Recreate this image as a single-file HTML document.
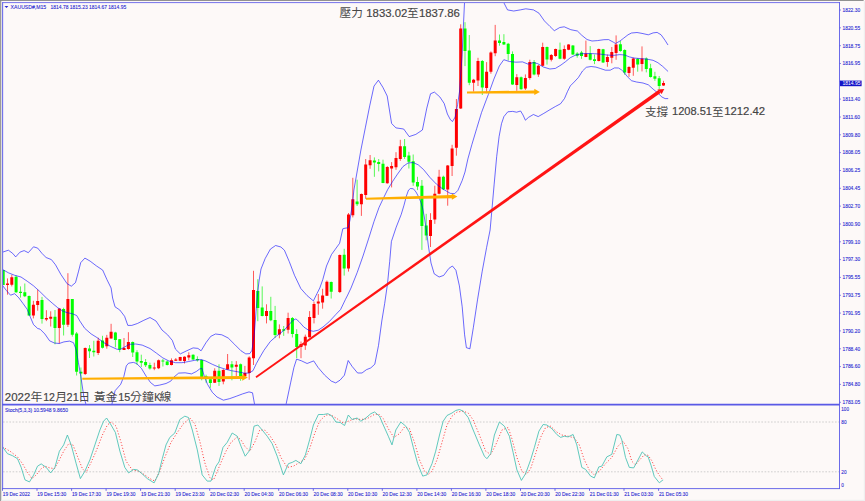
<!DOCTYPE html>
<html><head><meta charset="utf-8"><title>XAUUSD M15</title>
<style>html,body{margin:0;padding:0;background:#fdf9f8;}body{width:865px;height:501px;overflow:hidden;}svg{display:block;}text{font-family:"Liberation Sans",sans-serif;}text.cjk{font-family:"Liberation Sans","Noto Sans CJK TC",sans-serif;}</style>
</head><body>
<svg width="865" height="501" viewBox="0 0 865 501">
<defs><clipPath id="cm"><rect x="3" y="3" width="836.5" height="401"/></clipPath>
<clipPath id="cs"><rect x="3" y="405.5" width="836.5" height="83"/></clipPath></defs>
<rect width="865" height="501" fill="#fdf9f8"/>
<rect x="0" y="0" width="1.3" height="501" fill="#9b9b9b"/>
<rect x="0" y="0" width="863.6" height="0.9" fill="#858585"/>
<rect x="863.8" y="1" width="1.2" height="500" fill="#efefef"/>
<rect x="1.3" y="499.8" width="863.7" height="1.2" fill="#efefef"/>
<g clip-path="url(#cm)">
<path d="M3.2 270V285M16.1 275.5V293M20.5 286.4V297.6M24.8 283.5V297.1M29.1 295.5V315.8M42 296.9V323.6M55 310V344.3M63.6 307.7V335.5M72.3 299V336.6M76.6 332V375.5M80.9 367.5V393M89.5 345.1V358M93.8 340.8V356.5M102.5 335.8V348.5M115.4 331.8V347.3M119.7 339V352.2M132.7 341.5V357M137 350.2V365M141.3 354.7V367M145.6 359V367M149.9 362.7V369.6M162.9 359V366.5M167.2 360.5V365.5M193.1 354.3V360M197.4 356.3V361.6M201.7 359.5V380.3M206.1 374.7V382.7M210.4 377.9V387.8M219 364.3V385.9M231.9 361.1V380.3M240.6 363.5V380.8M257.8 279.2V321.2M262.2 286.4V316.4M270.8 296.8V321.2M275.1 305.9V337.8M283.7 326V335.9M292.4 317V337.5M296.7 329.2V358.2M331.2 281.5V298.5M344.2 248.8V275.6M357.1 179.7V206M374.4 157.4V176.8M378.7 159V171.4M383 159.7V183.2M404.6 139V158.9M408.9 151.8V168.5M413.2 154.5V185.8M417.5 176.8V190.1M421.9 180V249.9M426.2 213.8V240.3M443.4 175.7V190.1M465 22.2V66.1M469.3 35V85.2M482.3 60V95M499.5 34.5V45.7M503.9 34.2V45M508.2 42.9V60.5M512.5 51.4V84.9M521.1 76.5V89.7M534.1 60V75.3M547 46.6V64.6M560 42.6V59.3M572.9 45V55M577.2 52.1V57.7M581.5 50.9V58.8M590.2 46.1V60.4M594.5 54.5V64.1M603.1 48.9V63M620.4 41V51.8M624.7 49.3V74.8M637.7 58.2V71.7M646.3 57.4V72.4M650.6 63.8V77.6M654.9 71.8V80.8M659.2 76V89.4" stroke="#50f850" stroke-width="0.95" fill="none"/>
<path d="M7.5 278.4V294.7M11.8 274.8V286.4M33.4 300.8V318.4M37.7 289.6V310.7M46.4 310.2V321.1M50.7 311.3V326.5M59.3 308.4V343.5M67.9 273.2V327M85.2 347.5V375M98.2 337.7V355M106.8 334.9V348.7M111.1 323.8V338.7M124 338V350M128.4 332.2V349.7M154.3 362.7V370.2M158.6 359.5V369.1M171.5 358.4V365.4M175.8 358V361M180.2 356.8V361.1M184.5 356.3V363.5M188.8 352.3V360.3M214.7 368.3V383M223.3 369.1V384.3M227.6 354V369.9M236.3 361.1V376.3M244.9 365.9V376.6M249.2 356.3V379.8M253.5 270.8V365M266.5 304.3V323.4M279.4 324.4V338.3M288.1 312.7V333.5M301 341.5V358.2M305.3 334.6V349.9M309.6 311.1V337.5M314 301.6V323.4M318.3 294V314.8M322.6 288.8V308.7M326.9 280.5V296M339.8 254.5V293M348.5 213V271.6M352.8 177.8V217.4M361.4 193.5V215.9M365.7 159V198.9M370.1 155V168.8M387.3 166.1V183.7M391.6 162.1V187.4M396 152.2V169.8M400.3 139.8V160.9M430.5 213.2V247M434.8 185.7V223.9M439.1 169.8V194.4M447.7 165V205.7M452.1 144.8V176M456.4 99V155.7M460.7 24.3V109M473.6 78.9V91.6M478 57.8V86M486.6 62.1V93.2M490.9 51.4V73.7M495.2 24.9V56.2M516.8 74.1V90.8M525.4 74.4V90M529.8 59.7V79.7M538.4 64.8V76.9M542.7 42.7V66.2M551.3 54V61.4M555.6 48.6V56.9M564.3 45.4V59.8M568.6 44.2V50.2M585.9 40.6V57.2M598.8 48.6V61.4M607.4 54.5V66.8M611.8 47V63.3M616.1 35.4V59.8M629 66.2V76.9M633.3 57.7V75.8M642 46.4V71.4M663.5 80.8V85.9" stroke="#ff5050" stroke-width="0.95" fill="none"/>
<path d="M1.7 270h3V285h-3zM14.6 276.8h3V292.3h-3zM19 291.8h3V293.1h-3zM23.3 292.3h3V296.3h-3zM27.6 296h3V315.5h-3zM40.5 300h3V319h-3zM53.5 316.8h3V328h-3zM62.1 309h3V324.8h-3zM70.8 299h3V334.7h-3zM75.1 333.4h3V371.8h-3zM79.4 371.8h3V373.4h-3zM88 348.4h3V351.2h-3zM92.3 350.7h3V352.3h-3zM101 340.4h3V347.7h-3zM113.9 332.4h3V339.9h-3zM118.2 339.3h3V349.5h-3zM131.2 342h3V352.4h-3zM135.5 352.2h3V361.6h-3zM139.8 361h3V362.7h-3zM144.1 361.9h3V365.2h-3zM148.4 365.1h3V368.6h-3zM161.4 360.6h3V361.6h-3zM165.7 361.4h3V365.1h-3zM191.6 354.7h3V359.5h-3zM195.9 359h3V360.3h-3zM200.2 360h3V377.1h-3zM204.6 376.3h3V377.9h-3zM208.9 379.2h3V383h-3zM217.5 370.7h3V381.9h-3zM230.4 364.3h3V367.5h-3zM239.1 364.3h3V376.3h-3zM256.3 290.9h3V307.9h-3zM260.7 307.5h3V315.9h-3zM269.3 311.1h3V320.2h-3zM273.6 319.9h3V335.1h-3zM282.2 329.2h3V330.8h-3zM290.9 318h3V334h-3zM295.2 334h3V347h-3zM329.7 282h3V291.7h-3zM342.7 254.7h3V268.6h-3zM355.6 201.5h3V204.2h-3zM372.9 160.5h3V162.5h-3zM377.2 162.1h3V164.1h-3zM381.5 163.7h3V182.9h-3zM403.1 146.2h3V157h-3zM407.4 155.4h3V161.8h-3zM411.7 161.3h3V182.6h-3zM416 182h3V186.4h-3zM420.4 185.8h3V226h-3zM424.7 225.5h3V235.6h-3zM441.9 176.8h3V189.3h-3zM463.5 28.6h3V50.9h-3zM467.8 50.4h3V82.8h-3zM480.8 61h3V87.6h-3zM498 40.5h3V42.9h-3zM502.4 42.1h3V44.5h-3zM506.7 43.7h3V54.1h-3zM511 54.1h3V84.4h-3zM519.6 77.3h3V89.2h-3zM532.6 62.1h3V74.4h-3zM545.5 46.9h3V59.6h-3zM558.5 49.7h3V58.8h-3zM571.4 45.4h3V54.5h-3zM575.7 53.4h3V55.7h-3zM580 52.5h3V56.1h-3zM588.7 53.4h3V59.8h-3zM593 59.3h3V60.9h-3zM601.6 49.3h3V62.5h-3zM618.9 44.2h3V50.9h-3zM623.2 50.1h3V72.5h-3zM636.2 58.7h3V64.5h-3zM644.8 58.6h3V69h-3zM649.1 68.3h3V77.1h-3zM653.4 76.3h3V78.7h-3zM657.7 78.2h3V85.9h-3z" fill="#00ff00"/>
<path d="M6 283.5h3V285.1h-3zM10.3 277.2h3V284.8h-3zM31.9 304.8h3V315.5h-3zM36.2 301.1h3V305.1h-3zM44.9 317.9h3V319.5h-3zM49.2 316.8h3V318.7h-3zM57.8 308.6h3V328h-3zM66.4 299h3V324.8h-3zM83.7 347.9h3V373.9h-3zM96.7 340.8h3V353h-3zM105.3 337.8h3V346.3h-3zM109.6 331.7h3V338.5h-3zM122.5 347.9h3V350h-3zM126.9 342h3V349h-3zM152.8 367.5h3V368.6h-3zM157.1 360.3h3V368.3h-3zM170 360.3h3V365.1h-3zM174.3 359.5h3V360.7h-3zM178.7 357.1h3V360.7h-3zM183 356.8h3V361.1h-3zM187.3 355.2h3V357.5h-3zM213.2 370.7h3V382.7h-3zM221.8 369.9h3V381.4h-3zM226.1 364.3h3V369.6h-3zM234.8 364.8h3V366.7h-3zM243.4 373.1h3V376.3h-3zM247.7 357.5h3V373.1h-3zM252 289.9h3V358.2h-3zM265 311.1h3V315.9h-3zM277.9 329.2h3V334.6h-3zM286.6 318h3V329.8h-3zM299.5 343.9h3V347h-3zM303.8 336.7h3V345.5h-3zM308.1 317h3V337.2h-3zM312.5 303.9h3V318h-3zM316.8 301.6h3V303.6h-3zM321.1 295.6h3V302.4h-3zM325.4 281.8h3V295.8h-3zM338.3 254.9h3V292h-3zM347 214.6h3V268.6h-3zM351.3 199.3h3V215.2h-3zM359.9 194h3V204.2h-3zM364.2 164.5h3V195h-3zM368.6 160.2h3V165.3h-3zM385.8 166.9h3V183.2h-3zM390.1 166.1h3V168.5h-3zM394.5 158.1h3V167.2h-3zM398.8 146.2h3V158.9h-3zM429 219.9h3V235.9h-3zM433.3 193.8h3V219.6h-3zM437.6 176.8h3V193.7h-3zM446.2 165.6h3V189.5h-3zM450.6 148.5h3V166h-3zM454.9 109h3V147.7h-3zM459.2 28.6h3V108.6h-3zM472.1 79.7h3V82.8h-3zM476.5 61h3V80.5h-3zM485.1 71.7h3V88.1h-3zM489.4 52.5h3V71.7h-3zM493.7 40.5h3V53.3h-3zM515.3 77.3h3V84.9h-3zM523.9 78.1h3V88.4h-3zM528.3 62.1h3V78.1h-3zM536.9 65.8h3V74.4h-3zM541.2 46.9h3V65.8h-3zM549.8 55h3V59.8h-3zM554.1 48.9h3V56.1h-3zM562.8 48.9h3V58.8h-3zM567.1 44.5h3V49.7h-3zM584.4 53.4h3V56.9h-3zM597.3 48.9h3V60.9h-3zM605.9 56.9h3V62h-3zM610.3 52.1h3V57.7h-3zM614.6 44.5h3V52.9h-3zM627.5 66.9h3V72.9h-3zM631.8 58.5h3V67.8h-3zM640.5 58.6h3V64h-3zM662 83h3V85.6h-3z" fill="#ff0000"/>
<g fill="none" stroke="#0000ff" stroke-opacity="0.58" stroke-width="1.0" stroke-linejoin="round" stroke-linecap="round">
<path d="M2.5 252.2 L8.4 250.2 L12.6 253.3 L15.7 256.9 L19.9 252.2 L24.1 250.6 L28.3 252.7 L33.5 246.8 L37.7 248.1 L41.9 253.3 L46.1 257.5 L51.4 259.6 L55.5 264.8 L60.8 274.3 L67.1 283.7 L71.3 286.2 L75.5 282.6 L78.6 271.1 L80.7 262.7 L84.9 258.1 L90.1 261.1 L96.4 265.9 L102.7 270.1 L106.9 279.5 L111.1 288 L112.6 298 L115 306.8 L119.8 310 L124.6 316.3 L127.8 325.4 L131.8 325.4 L137.4 323.5 L143.8 320.3 L150 317.5 L156 321 L162 330 L167.6 334.8 L172.3 340.4 L175.5 349.2 L180.3 353.9 L186.7 350.8 L193.1 347.9 L197.9 348.4 L201.1 350.8 L205.9 342.8 L210.7 336.4 L215.5 334 L221.8 334.8 L228.2 338 L234.6 344.4 L241 350.8 L245.8 353.9 L249.8 353.6 L252 350.2 L254.4 332.7 L256 311.9 L257.6 292.8 L259.2 280 L261 269 L265.2 258.5 L270.4 249.1 L275.6 245.5 L280.9 247 L284.4 250.2 L289.3 261.7 L294.5 275.3 L300.8 288.5 L307.1 295.6 L313.4 300.9 L317 293.5 L319.8 288 L322.8 279.5 L326.5 266 L331.5 254.5 L335.4 249.1 L339.6 243.3 L342.8 228.8 L345 228.2 L348.2 227.8 L350 220 L352.7 201.5 L353.9 190 L360.9 150 L365.3 127.9 L369.7 105.9 L374 86.1 L378.4 80.2 L382.8 87.2 L387.2 96 L391.6 123.5 L396 127.9 L403.7 129 L409.2 136.6 L415.8 134.4 L422.4 130 L426.8 108.1 L430.5 93.8 L434.4 92.1 L439.9 97 L444.2 103.5 L447.4 114 L450.4 119.7 L452.5 121.5 L455.2 117 L457.6 104.6 L459.6 91 L462.1 54.9 L463.6 22 L464.5 2.6 L465 -5"/>
<path d="M503 -5 L503.8 2.6 L507.5 9.9 L513.7 11 L520.3 9.9 L525.8 8.8 L533.5 9.9 L539 13.2 L544.4 20.9 L549.9 26.4 L554.3 30.7 L559.8 27.5 L564.2 26.8 L570.8 29.7 L577.4 31 L581.8 35.3 L587 39.5 L592 41 L597.5 40.6 L603.9 39.7 L608.6 39.6 L613.4 42.2 L615.5 43.5 L619.7 41.2 L623.5 38.3 L628 34.8 L631.5 33 L637 32.5 L642 33.4 L648.3 34.8 L653.1 32.9 L657.1 32.4 L661.1 34.8 L665.1 40.4 L667.8 44.7"/>
<path d="M2.5 269.4 L8.4 272.8 L14.7 275.3 L21 277 L27.2 281.2 L33.5 285.8 L39.8 291.5 L46.4 298 L52.8 303.6 L57.6 307.6 L62.3 310.8 L67.1 312.7 L71.9 313.6 L76.7 315.5 L79.9 321.1 L84.7 328.3 L91.1 333.9 L97.5 337.9 L103.9 342.7 L110.2 346.2 L116.6 349.1 L119.8 349.6 L124.6 347 L129.4 344.3 L135.8 344 L142.2 345.1 L150 348.5 L156.4 353.1 L162.8 357.9 L169.2 361.1 L175.5 362.7 L181.9 362.7 L188.3 361.6 L194.7 360.3 L201.1 359.5 L205.9 361.1 L212.3 364.3 L218.6 367 L225 369.1 L231.4 370.7 L237.8 371.8 L244.2 373.1 L249 373.1 L253 370.7 L256.4 363.5 L260 357 L263.9 350.4 L270.3 341.5 L276.7 335.9 L283.1 331.1 L287.9 326 L292.7 320.5 L295.9 318.9 L299.1 321.7 L303.9 327.1 L308.7 330.3 L313.4 331.3 L318.2 330.2 L323 327 L329.4 321.5 L335.8 314.5 L340.6 309.5 L345.4 299.5 L347.7 295 L351 288 L357.2 272.5 L363 256 L368.5 239 L374 221.5 L379 207.5 L383 199 L387.7 189.5 L392.7 181.3 L397.5 174.1 L403 166.5 L408 163 L413 162.5 L418.2 164.8 L423.5 169.5 L430 177.5 L436.5 184.2 L442.5 188.8 L450.2 193.3 L454.6 193.7 L457.9 190.4 L462.2 180.5 L465 172 L467.9 158.9 L471.9 144.5 L476.7 128.5 L481.5 112.6 L486.3 99.8 L488.4 94.4 L493.9 79.1 L499.4 65.9 L503.8 59.7 L509.3 61.5 L515.9 62.2 L522.5 61.9 L528 64.1 L533.5 62.6 L537.8 63.7 L543.3 67 L549.9 69 L555.4 68.4 L561 65 L565.5 61.7 L570.3 57.7 L575.1 55.3 L581.5 53.7 L587.9 53.5 L594.3 53.7 L600.7 54.2 L607 55 L613.4 55.4 L619.8 54.6 L624.6 55 L629.4 56.9 L634 58 L640.3 58.6 L646.7 59.1 L653.1 60.3 L657.9 62.7 L662.7 66.4 L667.8 71.2"/>
<path d="M2.5 285.4 L6.3 290.4 L10.5 295.2 L14.7 293.7 L18.9 297.9 L23.1 303.6 L27.2 309.3 L30.4 317.2 L33.5 324.6 L37.7 328.5 L40 329.1 L44.8 333.9 L49.6 340.8 L54.4 343 L59.2 343.5 L63.9 341.9 L69.5 341.1 L73.5 342.7 L76 349.2 L78.4 362.5 L80.8 376.3 L83.9 397 L86 404.5 L89 412"/>
<path d="M109 412 L111.9 404.2 L115.1 390.7 L120.7 384.3 L123.9 376.3 L126.3 365.9 L128.6 363.2 L133.4 362.4 L136.6 363.5 L141.4 368.3 L146.2 376.3 L150.5 382.5 L154.8 385.9 L159.6 385.1 L166 383.5 L170.8 381.1 L173.9 377.1 L178.7 373.1 L185.1 372.8 L191.5 373.9 L196.3 371.5 L199.5 369.1 L201.9 368.3 L204.3 376.3 L207.5 384.3 L212.3 392.3 L217 397 L223.4 400.2 L229.8 398.6 L236.2 396.3 L242.6 393.9 L249 391.9 L252.5 392.8 L254.5 404 L255 412"/>
<path d="M285 412 L286.2 403.7 L290.6 382.9 L293.9 367.5 L296.6 359.1 L301.6 360.9 L307.1 363.5 L313.7 360.9 L318.1 367.5 L324.7 375.2 L331.3 381.1 L335.7 382.9 L340 380.2 L344.4 375.2 L348.2 360.5 L352.1 366.4 L357.6 373 L362 373 L366.4 369.7 L370.8 367.9 L374.8 364.2 L378.5 345.5 L381.8 321 L384.7 303.4 L387.5 283.8 L389.7 261.5 L391.4 241.5 L396.2 227.2 L401.2 214.5 L404 205.2 L406.4 196 L408.5 190.1 L410.5 188.5 L413.4 188.8 L416 192 L418.6 196.8 L420.8 202 L422.6 208 L424.3 217 L426.4 230 L428.4 246 L431 263 L434.2 273.8 L439.1 277 L443.7 275.4 L448.9 268.4 L452.4 266 L455.9 270.2 L459.4 285.9 L462.2 306.8 L464.6 334.8 L466.4 347.7 L469.9 348.8 L473.3 327.8 L477.5 299.9 L482.1 271.9 L486.6 247.5 L490.1 230 L491.2 217.9 L494.1 184.9 L496.7 156.5 L499.1 136.5 L501.5 123.7 L503.9 116.6 L507.8 111.8 L512.6 111.4 L516.6 112.2 L520.6 111 L523 115 L525.4 120.2 L528.6 117.3 L533.4 114.5 L538.2 116.6 L543.8 113.4 L549.9 109.7 L555.4 106.5 L560.5 103.8 L564.5 98.5 L567.5 91.5 L570.3 85.9 L574.2 82 L578.4 77.5 L582.5 71 L586.3 67.3 L591.1 66.5 L595.9 67.1 L600.7 68.6 L605.4 70.2 L610.2 70.2 L614.5 67.9 L618.5 68 L621.4 69.8 L623.8 72 L627.3 76.6 L631.5 80.7 L636.5 82 L643 83 L648.3 84.8 L653.1 89.1 L657.9 93.1 L661.9 97 L665.1 98.6 L667.8 98.6"/>
</g>
</g>
<path d="M82.3 379.8 L242.2 379.1 L242.2 380.7 L247.8 377.5 L242.2 374.3 L242.2 376 L82.3 377.8z" fill="#ffae00"/>
<path d="M366 199.7 L451.8 198.2 L451.9 199.8 L457.4 196.5 L451.7 193.4 L451.8 195.1 L366 197.7z" fill="#ffae00"/>
<path d="M467 93.5 L534.3 93.4 L534.3 95.1 L539.9 91.9 L534.3 88.7 L534.3 90.5 L467 91.5z" fill="#ffae00"/>
<path d="M256.5 378 L660.5 93 L658.5 90.1 L255.5 376.6z" fill="#ff1414"/>
<path d="M664.3 88.9L657.4 89.5L661.7 93.9z" fill="#ff1414"/>
<g clip-path="url(#cs)">
<path d="M3 422H839M3 471.8H839" stroke="#c0c0c0" stroke-width="0.75" stroke-dasharray="1.6 1.6" fill="none"/>
<path d="M2.5 446.9 L10 451.2 L17.5 456.9 L22.5 463.7 L27.5 472.4 L32 478.6 L36.2 474.9 L41.2 468.7 L44.9 466.2 L49.9 467.9 L54.4 468.7 L58.7 461.2 L63.7 451.2 L68.7 443.7 L72.9 444.9 L77.4 456.2 L82.4 468.7 L86.1 472.4 L91.1 462.4 L96.1 451.2 L102.4 435 L107.4 425 L111.1 422 L116.1 426.2 L121.1 442.4 L126.1 461.2 L132.3 469.9 L138.6 471.2 L144.8 474.9 L149.8 478.6 L154.8 481.1 L159.8 471.2 L164.8 457.4 L171 442.4 L177.3 432.5 L183.5 423.7 L189.8 418 L194.8 423.7 L199.8 441.2 L204.7 462.4 L209.7 477.4 L213.5 479.9 L216 474.4 L221 462.4 L226 451.2 L231 442.4 L237.2 436.9 L241 439.9 L244.7 446.2 L249.7 451.2 L254.7 442.4 L259.7 430 L264.7 430 L269.7 435.4 L275.9 444.9 L280.9 457.4 L287.2 467.4 L293.4 466.2 L299.6 462.4 L304.6 459.4 L309.6 448.7 L314.6 433.7 L319.6 421.2 L325.9 415 L330.9 415 L337.1 418.7 L343.3 423 L348.3 421.2 L354.6 418.7 L360.8 419.5 L367.1 418.7 L373.3 415 L378.3 413.7 L383.3 418.7 L388.3 428.7 L393.8 437.4 L399.5 433.7 L404.5 427 L409.5 428.7 L414.5 442.4 L419.5 459.9 L424.5 471.2 L428.2 474.4 L432 471.2 L437 459.9 L442 442.4 L447 425 L452 416.2 L457 412 L463.2 411.2 L468.2 413 L473.2 420 L479.4 435 L485.7 451.2 L490.7 454.4 L495.7 444.9 L501.9 430 L508.2 427.5 L511.9 438.7 L516.9 457.4 L521.9 471.2 L526.4 474.4 L530.6 468.7 L535.6 453.7 L540.6 437.4 L545.6 427.5 L550.6 426.2 L556.8 432 L561.8 435 L568.1 436.2 L574.3 437.9 L579.3 444.9 L584.3 459.9 L589.3 469.9 L594.3 474.9 L599.3 471.2 L605.5 463.7 L611.8 457.4 L618 446.2 L623 441.2 L628 448.7 L631.8 461.2 L635.5 464.9 L639.2 460.4 L644.2 454.9 L648 455.2 L651.8 460.7 L655.5 469 L659.3 475.3 L663.1 480.3" stroke="#ff3030" stroke-width="0.9" stroke-dasharray="1.1 1.9" fill="none"/>
<path d="M2.5 446.9 L7.5 453.7 L12.5 455.7 L17.5 458.7 L21.2 467.4 L25 479.9 L29.5 481.9 L33.7 474.9 L37.5 466.2 L41.2 463.9 L46.2 467.4 L50.7 472.9 L54.9 467.4 L59.4 451.2 L63.7 444.9 L67.4 435 L71.2 444.9 L76.2 463.7 L80.4 478.6 L84.9 471.2 L89.9 459.9 L94.9 444.9 L99.9 430 L103.6 421.2 L106.6 418 L111.1 425 L115.4 432.5 L119.9 451.2 L124.8 467.4 L128.6 472.9 L133.6 469.4 L137.3 469.9 L141.1 472.9 L147.3 478.6 L154.1 482.9 L158.6 473.7 L162.3 458.7 L166 444.9 L169.8 437.4 L174.8 433 L179.8 419.5 L184.8 416.2 L188.5 417.5 L192.3 430 L197.3 449.9 L202.2 474.9 L207.2 481.1 L211 481.1 L214.7 469.9 L216 466.2 L219 461.9 L223 447.4 L227.2 442.4 L232.2 433 L237.2 436.2 L241 446.2 L245.2 456.2 L249.7 450.4 L254 426.2 L257.9 425 L262.2 430 L267.2 436.2 L272.2 443.7 L277.2 456.2 L283.4 474.9 L288.4 463.7 L292.2 462.4 L295.9 460.4 L300.9 463.7 L305.4 454.9 L309.6 439.9 L313.4 425 L318.4 414.5 L323.4 414.5 L327.9 413.7 L332.1 416.2 L335.9 422 L340.3 422.5 L344.6 425.5 L348.3 415 L352.1 419.5 L357.1 418 L360.8 421.2 L365.8 418 L370.8 413.7 L374.6 412 L379.5 416.2 L383.3 425 L388.3 436.2 L392 444.9 L395.8 430 L400.8 422 L405.8 426.2 L409.5 432.5 L413.3 447.4 L417.7 463.7 L422.7 476.1 L427 474.9 L432 463.7 L435.7 451.2 L439.5 435 L443.2 421.2 L447 415.5 L452 413 L455.7 410.5 L459.5 409.5 L463.2 411.2 L468.2 417.5 L473.2 430 L479.4 444.9 L484.4 456.2 L486.9 458.7 L490.7 453.7 L494.4 435 L499.4 422 L504.4 426.2 L509.4 436.2 L513.1 452.4 L516.9 469.9 L521.4 480.4 L525.6 473.7 L530.6 459.9 L534.4 447.4 L538.9 431.2 L543.1 424.5 L546.9 425 L551.9 428.7 L556.8 434.5 L560.6 437.4 L564.3 436.2 L568.1 436.9 L573.1 434.5 L576.8 444.9 L581.8 467.4 L585.6 469.4 L590.6 476.1 L594.3 477.9 L598.8 466.9 L601.8 466.2 L606.8 456.9 L611.8 454.4 L616.8 434.5 L619.8 435 L621.8 439.9 L625.5 457.4 L629.3 467.4 L633.7 467.9 L638 459.9 L642.2 451.9 L646.7 456.2 L648 456.5 L651 465.2 L654.3 476.5 L659.3 482.8 L663.1 479.8" stroke="#45c0b2" stroke-width="0.85" fill="none" stroke-linejoin="round"/>
</g>
<g stroke="#5a5ae6" fill="none">
<path d="M2.6 2V489" stroke-width="1.1" stroke="#6e6eea"/>
<path d="M2 2.6H840" stroke-width="1" stroke="#7672ea"/>
<path d="M839.5 2V489" stroke-width="0.9"/>
<path d="M2 488.6H840" stroke-width="0.9"/>
<path d="M2 404.6H840" stroke-width="1.9"/>
<path d="M839.5 10h1.3M839.5 27.8h1.3M839.5 45.7h1.3M839.5 63.5h1.3M839.5 81.3h1.3M839.5 99.1h1.3M839.5 117h1.3M839.5 134.8h1.3M839.5 152.6h1.3M839.5 170.5h1.3M839.5 188.3h1.3M839.5 206.1h1.3M839.5 224h1.3M839.5 241.8h1.3M839.5 259.6h1.3M839.5 277.4h1.3M839.5 295.3h1.3M839.5 313.1h1.3M839.5 330.9h1.3M839.5 348.8h1.3M839.5 366.6h1.3M839.5 384.4h1.3M839.5 402.3h1.3M2.5 488.6v2.2M37 488.6v2.2M71.6 488.6v2.2M106.1 488.6v2.2M140.6 488.6v2.2M175.2 488.6v2.2M209.7 488.6v2.2M244.2 488.6v2.2M278.7 488.6v2.2M313.3 488.6v2.2M347.8 488.6v2.2M382.3 488.6v2.2M416.9 488.6v2.2M451.4 488.6v2.2M485.9 488.6v2.2M520.5 488.6v2.2M555 488.6v2.2M589.5 488.6v2.2M624 488.6v2.2M658.6 488.6v2.2" stroke-width="0.9"/>
</g>
<g fill="#2a2ad2" font-size="5px" stroke="#2a2ad2" stroke-width="0.1">
<text x="842.5" y="11.8" textLength="17.6" lengthAdjust="spacingAndGlyphs">1822.30</text>
<text x="842.5" y="29.6" textLength="17.6" lengthAdjust="spacingAndGlyphs">1820.55</text>
<text x="842.5" y="47.5" textLength="17.6" lengthAdjust="spacingAndGlyphs">1818.75</text>
<text x="842.5" y="65.3" textLength="17.6" lengthAdjust="spacingAndGlyphs">1816.95</text>
<text x="842.5" y="100.9" textLength="17.6" lengthAdjust="spacingAndGlyphs">1813.40</text>
<text x="842.5" y="118.8" textLength="17.6" lengthAdjust="spacingAndGlyphs">1811.60</text>
<text x="842.5" y="136.6" textLength="17.6" lengthAdjust="spacingAndGlyphs">1809.80</text>
<text x="842.5" y="154.4" textLength="17.6" lengthAdjust="spacingAndGlyphs">1808.05</text>
<text x="842.5" y="172.3" textLength="17.6" lengthAdjust="spacingAndGlyphs">1806.25</text>
<text x="842.5" y="190.1" textLength="17.6" lengthAdjust="spacingAndGlyphs">1804.45</text>
<text x="842.5" y="207.9" textLength="17.6" lengthAdjust="spacingAndGlyphs">1802.70</text>
<text x="842.5" y="225.8" textLength="17.6" lengthAdjust="spacingAndGlyphs">1800.90</text>
<text x="842.5" y="243.6" textLength="17.6" lengthAdjust="spacingAndGlyphs">1799.10</text>
<text x="842.5" y="261.4" textLength="17.6" lengthAdjust="spacingAndGlyphs">1797.30</text>
<text x="842.5" y="279.2" textLength="17.6" lengthAdjust="spacingAndGlyphs">1795.55</text>
<text x="842.5" y="297.1" textLength="17.6" lengthAdjust="spacingAndGlyphs">1793.75</text>
<text x="842.5" y="314.9" textLength="17.6" lengthAdjust="spacingAndGlyphs">1791.95</text>
<text x="842.5" y="332.7" textLength="17.6" lengthAdjust="spacingAndGlyphs">1790.20</text>
<text x="842.5" y="350.6" textLength="17.6" lengthAdjust="spacingAndGlyphs">1788.40</text>
<text x="842.5" y="368.4" textLength="17.6" lengthAdjust="spacingAndGlyphs">1786.60</text>
<text x="842.5" y="386.2" textLength="17.6" lengthAdjust="spacingAndGlyphs">1784.80</text>
<text x="842.5" y="404.1" textLength="17.6" lengthAdjust="spacingAndGlyphs">1783.05</text>
<text x="841.3" y="410.7" textLength="7.7" lengthAdjust="spacingAndGlyphs">100</text>
<text x="841.3" y="424" textLength="5.2" lengthAdjust="spacingAndGlyphs">80</text>
<text x="841.3" y="473.7" textLength="5.2" lengthAdjust="spacingAndGlyphs">20</text>
<text x="841.3" y="486.9" textLength="2.6" lengthAdjust="spacingAndGlyphs">0</text>
<text x="2.8" y="495.6" textLength="27.2" lengthAdjust="spacingAndGlyphs">19 Dec 2022</text>
<text x="37.3" y="495.6" textLength="29" lengthAdjust="spacingAndGlyphs">19 Dec 15:30</text>
<text x="71.9" y="495.6" textLength="29" lengthAdjust="spacingAndGlyphs">19 Dec 17:30</text>
<text x="106.4" y="495.6" textLength="29" lengthAdjust="spacingAndGlyphs">19 Dec 19:30</text>
<text x="140.9" y="495.6" textLength="29" lengthAdjust="spacingAndGlyphs">19 Dec 21:30</text>
<text x="175.5" y="495.6" textLength="29" lengthAdjust="spacingAndGlyphs">19 Dec 23:30</text>
<text x="210" y="495.6" textLength="29" lengthAdjust="spacingAndGlyphs">20 Dec 02:30</text>
<text x="244.5" y="495.6" textLength="29" lengthAdjust="spacingAndGlyphs">20 Dec 04:30</text>
<text x="279" y="495.6" textLength="29" lengthAdjust="spacingAndGlyphs">20 Dec 06:30</text>
<text x="313.6" y="495.6" textLength="29" lengthAdjust="spacingAndGlyphs">20 Dec 08:30</text>
<text x="348.1" y="495.6" textLength="29" lengthAdjust="spacingAndGlyphs">20 Dec 10:30</text>
<text x="382.6" y="495.6" textLength="29" lengthAdjust="spacingAndGlyphs">20 Dec 12:30</text>
<text x="417.2" y="495.6" textLength="29" lengthAdjust="spacingAndGlyphs">20 Dec 14:30</text>
<text x="451.7" y="495.6" textLength="29" lengthAdjust="spacingAndGlyphs">20 Dec 16:30</text>
<text x="486.2" y="495.6" textLength="29" lengthAdjust="spacingAndGlyphs">20 Dec 18:30</text>
<text x="520.8" y="495.6" textLength="29" lengthAdjust="spacingAndGlyphs">20 Dec 20:30</text>
<text x="555.3" y="495.6" textLength="29" lengthAdjust="spacingAndGlyphs">20 Dec 22:30</text>
<text x="589.8" y="495.6" textLength="29" lengthAdjust="spacingAndGlyphs">21 Dec 01:30</text>
<text x="624.3" y="495.6" textLength="29" lengthAdjust="spacingAndGlyphs">21 Dec 03:30</text>
<text x="658.9" y="495.6" textLength="29" lengthAdjust="spacingAndGlyphs">21 Dec 05:30</text>
<text x="10.6" y="8.9" textLength="35.6" lengthAdjust="spacingAndGlyphs">XAUUSD#,M15</text>
<text x="50.5" y="8.9" textLength="75.7" lengthAdjust="spacingAndGlyphs">1814.78 1815.23 1814.67 1814.95</text>
<text x="5" y="411.6" textLength="63" lengthAdjust="spacingAndGlyphs">Stoch(5,3,3) 10.5948 9.8650</text>
<path d="M4.5 5.9h3.9l-1.95 2.1z" stroke="none"/>
</g>
<rect x="840" y="80.6" width="21.6" height="5.6" fill="#1414c8"/>
<text x="842.4" y="85.2" font-size="5.1px" fill="#ffffff" textLength="18.2" lengthAdjust="spacingAndGlyphs">1814.95</text>
<g fill="#444444" stroke="#444444" stroke-width="0.18">
<text class="cjk" x="339.6" y="17.4" font-size="11.6px" fill="#484848" stroke="none">壓</text>
<text class="cjk" x="351.2" y="17.4" font-size="11.6px" fill="#484848" stroke="none">力</text>
<text x="366.3" y="16.6" font-size="11.3px" textLength="41" lengthAdjust="spacingAndGlyphs">1833.02</text>
<text class="cjk" x="407.1" y="17.4" font-size="11.6px" fill="#484848" stroke="none">至</text>
<text x="418.9" y="16.6" font-size="11.3px" textLength="41" lengthAdjust="spacingAndGlyphs">1837.86</text>
<text class="cjk" x="645" y="116.1" font-size="11.6px" fill="#484848" stroke="none">支</text>
<text class="cjk" x="656.5" y="116.1" font-size="11.6px" fill="#484848" stroke="none">撐</text>
<text x="672.0" y="115.4" font-size="11.3px" textLength="40" lengthAdjust="spacingAndGlyphs">1208.51</text>
<text class="cjk" x="712" y="116.1" font-size="11.6px" fill="#484848" stroke="none">至</text>
<text x="724.2" y="115.4" font-size="11.3px" textLength="41" lengthAdjust="spacingAndGlyphs">1212.42</text>
<text x="4.8" y="400.7" font-size="11.7px" textLength="25.6" lengthAdjust="spacingAndGlyphs">2022</text>
<text class="cjk" x="30.5" y="401.2" font-size="11.9px" fill="#484848" stroke="none">年</text>
<text x="43.2" y="400.7" font-size="11.7px" textLength="11.8" lengthAdjust="spacingAndGlyphs">12</text>
<text class="cjk" x="55.2" y="401.2" font-size="11.9px" fill="#484848" stroke="none">月</text>
<text x="66.6" y="400.7" font-size="11.7px" textLength="12.2" lengthAdjust="spacingAndGlyphs">21</text>
<text class="cjk" x="78.3" y="401.2" font-size="11.9px" fill="#484848" stroke="none">日</text>
<text class="cjk" x="93.7" y="401.2" font-size="11.9px" fill="#484848" stroke="none">黃</text>
<text class="cjk" x="105.6" y="401.2" font-size="11.9px" fill="#484848" stroke="none">金</text>
<text x="118.2" y="400.7" font-size="11.7px" textLength="12" lengthAdjust="spacingAndGlyphs">15</text>
<text class="cjk" x="130.1" y="401.2" font-size="11.9px" fill="#484848" stroke="none">分</text>
<text class="cjk" x="142" y="401.2" font-size="11.9px" fill="#484848" stroke="none">鐘</text>
<text x="154.2" y="400.7" font-size="11.7px" textLength="6.4" lengthAdjust="spacingAndGlyphs">K</text>
<text class="cjk" x="159.6" y="401.2" font-size="11.9px" fill="#484848" stroke="none">線</text>
</g>
</svg></body></html>
